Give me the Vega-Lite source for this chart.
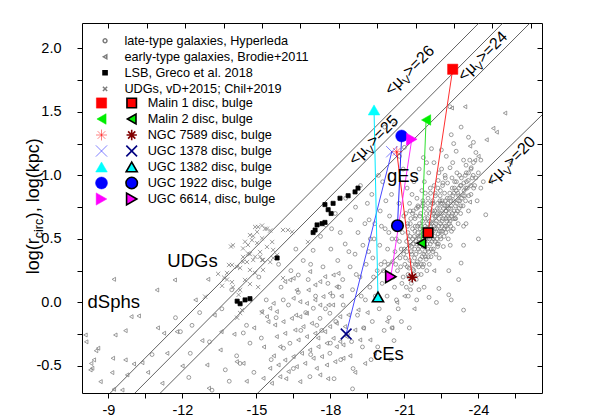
{
"$schema":"https://vega.github.io/schema/vega-lite/v6.json",
"width":460,"height":370,
"autosize":{"type":"none"},
"padding":{"left":82,"top":23,"right":56,"bottom":24},
"background":"white",
"config":{"font":"Liberation Sans","view":{"stroke":"black","strokeWidth":1},
 "axis":{"grid":false,"domain":false,"tickColor":"black","labelColor":"black","labelFont":"Liberation Sans","labelFontSize":14.5,"tickSize":5,"labelFlush":false},
 "legend":{"padding":0,"labelFont":"Liberation Sans","labelFontSize":12.7,"labelColor":"black","title":null,"labelLimit":400}},
"datasets":{
"mu":[{"mu":26,"M":-9.04,"r":-0.72},{"mu":26,"M":-24.03,"r":2.2},{"mu":25,"M":-10.04,"r":-0.72},{"mu":25,"M":-25.0,"r":2.2},{"mu":24,"M":-11.07,"r":-0.72},{"mu":24,"M":-26.1,"r":2.2},{"mu":20,"M":-15.02,"r":-0.72},{"mu":20,"M":-26.58,"r":1.475}],
"bg":[
{"c":"L","M":-13.1,"r":-0.31},{"c":"L","M":-13.6,"r":-0.05},{"c":"L","M":-14.2,"r":-0.42},{"c":"L","M":-14.6,"r":-0.18},{"c":"L","M":-14.9,"r":-0.55},{"c":"L","M":-15.2,"r":-0.28},{"c":"L","M":-15.4,"r":0.02},{"c":"L","M":-15.6,"r":-0.45},{"c":"L","M":-15.8,"r":-0.12},{"c":"L","M":-16.0,"r":0.12},{"c":"L","M":-16.1,"r":-0.36},{"c":"L","M":-16.3,"r":-0.02},{"c":"L","M":-16.4,"r":0.25},{"c":"L","M":-16.5,"r":-0.52},{"c":"L","M":-16.7,"r":0.08},{"c":"L","M":-16.8,"r":-0.22},{"c":"L","M":-16.9,"r":0.33},{"c":"L","M":-17.0,"r":-0.08},{"c":"L","M":-17.1,"r":0.18},{"c":"L","M":-17.2,"r":-0.41},{"c":"L","M":-17.3,"r":0.41},{"c":"L","M":-17.4,"r":0.05},{"c":"L","M":-17.45,"r":-0.18},{"c":"L","M":-15.9,"r":0.3},{"c":"L","M":-16.6,"r":0.42},{"c":"L","M":-17.2,"r":0.3},{"c":"L","M":-14.0,"r":0.1},{"c":"L","M":-12.7,"r":-0.08},{"c":"L","M":-13.9,"r":-0.62},{"c":"L","M":-15.1,"r":0.2},{"c":"L","M":-11.72,"r":-0.12},{"c":"L","M":-12.39,"r":-0.18},{"c":"L","M":-11.92,"r":-0.23},{"c":"L","M":-10.77,"r":-0.41},{"c":"L","M":-12.32,"r":-0.4},{"c":"L","M":-12.26,"r":-0.59},{"c":"L","M":-13.74,"r":-0.53},{"c":"L","M":-13.2,"r":-0.69},{"c":"L","M":-14.74,"r":-0.32},{"c":"L","M":-14.47,"r":-0.24},{"c":"L","M":-14.34,"r":-0.48},
{"c":"L","M":-17.6,"r":0.52},{"c":"L","M":-17.7,"r":0.28},{"c":"L","M":-17.8,"r":-0.05},{"c":"L","M":-17.82,"r":0.61},{"c":"L","M":-17.9,"r":0.15},{"c":"L","M":-18.0,"r":-0.32},{"c":"L","M":-18.02,"r":0.42},{"c":"L","M":-18.1,"r":0.05},{"c":"L","M":-18.2,"r":0.7},{"c":"L","M":-18.22,"r":-0.15},{"c":"L","M":-18.3,"r":0.33},{"c":"L","M":-18.4,"r":0.55},{"c":"L","M":-18.42,"r":-0.45},{"c":"L","M":-18.5,"r":0.18},{"c":"L","M":-18.52,"r":-0.02},{"c":"L","M":-18.6,"r":0.46},{"c":"L","M":-18.62,"r":0.82},{"c":"L","M":-18.7,"r":-0.25},{"c":"L","M":-18.8,"r":0.28},{"c":"L","M":-18.82,"r":0.65},{"c":"L","M":-18.9,"r":0.1},{"c":"L","M":-18.92,"r":-0.52},{"c":"L","M":-19.0,"r":0.38},{"c":"L","M":-19.02,"r":0.75},{"c":"L","M":-19.1,"r":-0.1},{"c":"L","M":-19.12,"r":0.55},{"c":"L","M":-19.2,"r":0.2},{"c":"L","M":-19.22,"r":0.92},{"c":"L","M":-19.3,"r":-0.35},{"c":"L","M":-19.32,"r":0.45},{"c":"L","M":-19.4,"r":0.62},{"c":"L","M":-19.42,"r":0.02},{"c":"L","M":-19.45,"r":0.3},{"c":"L","M":-19.5,"r":0.78},{"c":"L","M":-18.05,"r":0.58},{"c":"L","M":-18.35,"r":0.12},{"c":"L","M":-18.75,"r":0.4},{"c":"L","M":-19.05,"r":0.22},{"c":"L","M":-19.25,"r":0.05},{"c":"L","M":-17.65,"r":-0.22},{"c":"L","M":-18.15,"r":-0.6},{"c":"L","M":-18.9,"r":-0.68},{"c":"L","M":-19.35,"r":-0.2},
{"c":"L","M":-19.6,"r":0.12},{"c":"L","M":-19.62,"r":0.5},{"c":"L","M":-19.7,"r":-0.15},{"c":"L","M":-19.72,"r":0.35},{"c":"L","M":-19.68,"r":0.85},{"c":"L","M":-19.8,"r":0.62},{"c":"L","M":-19.82,"r":0.05},{"c":"L","M":-19.9,"r":0.25},{"c":"L","M":-19.92,"r":-0.35},{"c":"L","M":-20.0,"r":0.45},{"c":"L","M":-20.02,"r":0.72},{"c":"L","M":-19.98,"r":-0.05},{"c":"L","M":-20.1,"r":0.15},{"c":"L","M":-20.12,"r":0.95},{"c":"L","M":-20.2,"r":0.32},{"c":"L","M":-20.22,"r":0.58},{"c":"L","M":-20.18,"r":-0.22},{"c":"L","M":-20.3,"r":0.05},{"c":"L","M":-20.32,"r":0.42},{"c":"L","M":-20.4,"r":0.68},{"c":"L","M":-20.42,"r":0.22},{"c":"L","M":-20.38,"r":-0.12},{"c":"L","M":-20.5,"r":0.5},{"c":"L","M":-20.52,"r":0.32},{"c":"L","M":-20.48,"r":0.85},{"c":"L","M":-20.6,"r":0.12},{"c":"L","M":-20.62,"r":0.4},{"c":"L","M":-20.58,"r":-0.3},{"c":"L","M":-20.7,"r":0.62},{"c":"L","M":-20.72,"r":0.25},{"c":"L","M":-20.68,"r":0.02},{"c":"L","M":-20.8,"r":0.48},{"c":"L","M":-20.82,"r":0.35},{"c":"L","M":-20.78,"r":0.78},{"c":"L","M":-20.9,"r":0.15},{"c":"L","M":-20.92,"r":0.55},{"c":"L","M":-20.88,"r":-0.15},{"c":"L","M":-21.0,"r":0.42},{"c":"L","M":-21.02,"r":0.3},{"c":"L","M":-20.98,"r":0.68},{"c":"L","M":-19.65,"r":-0.45},{"c":"L","M":-19.95,"r":1.0},{"c":"L","M":-20.25,"r":0.8},{"c":"L","M":-20.45,"r":-0.45},{"c":"L","M":-20.75,"r":-0.05},{"c":"L","M":-20.95,"r":1.05},{"c":"L","M":-20.15,"r":0.25},{"c":"L","M":-20.55,"r":0.2},
{"c":"L","M":-21.08,"r":0.12},{"c":"L","M":-21.12,"r":0.28},{"c":"L","M":-21.1,"r":0.4},{"c":"L","M":-21.14,"r":0.55},{"c":"L","M":-21.06,"r":0.7},{"c":"L","M":-21.11,"r":0.9},
{"c":"L","M":-21.18,"r":0.2},{"c":"L","M":-21.22,"r":0.33},{"c":"L","M":-21.2,"r":0.45},{"c":"L","M":-21.24,"r":0.62},{"c":"L","M":-21.16,"r":0.05},{"c":"L","M":-21.21,"r":0.78},
{"c":"L","M":-21.28,"r":0.15},{"c":"L","M":-21.32,"r":0.3},{"c":"L","M":-21.3,"r":0.38},{"c":"L","M":-21.34,"r":0.5},{"c":"L","M":-21.26,"r":0.66},{"c":"L","M":-21.31,"r":0.85},
{"c":"L","M":-21.38,"r":0.25},{"c":"L","M":-21.42,"r":0.42},{"c":"L","M":-21.4,"r":0.52},{"c":"L","M":-21.44,"r":0.6},{"c":"L","M":-21.36,"r":0.72},{"c":"L","M":-21.41,"r":0.35},{"c":"L","M":-21.39,"r":0.95},
{"c":"L","M":-21.48,"r":0.18},{"c":"L","M":-21.52,"r":0.32},{"c":"L","M":-21.5,"r":0.46},{"c":"L","M":-21.54,"r":0.55},{"c":"L","M":-21.46,"r":0.68},{"c":"L","M":-21.51,"r":0.82},
{"c":"L","M":-21.58,"r":0.28},{"c":"L","M":-21.62,"r":0.4},{"c":"L","M":-21.6,"r":0.5},{"c":"L","M":-21.64,"r":0.58},{"c":"L","M":-21.56,"r":0.75},{"c":"L","M":-21.61,"r":0.62},{"c":"L","M":-21.59,"r":0.1},
{"c":"L","M":-21.68,"r":0.22},{"c":"L","M":-21.72,"r":0.36},{"c":"L","M":-21.7,"r":0.48},{"c":"L","M":-21.74,"r":0.64},{"c":"L","M":-21.66,"r":0.7},{"c":"L","M":-21.71,"r":0.88},
{"c":"L","M":-21.78,"r":0.3},{"c":"L","M":-21.82,"r":0.44},{"c":"L","M":-21.8,"r":0.52},{"c":"L","M":-21.84,"r":0.6},{"c":"L","M":-21.76,"r":0.78},{"c":"L","M":-21.81,"r":0.95},{"c":"L","M":-21.79,"r":0.38},
{"c":"L","M":-21.88,"r":0.34},{"c":"L","M":-21.92,"r":0.46},{"c":"L","M":-21.9,"r":0.56},{"c":"L","M":-21.94,"r":0.66},{"c":"L","M":-21.86,"r":0.74},{"c":"L","M":-21.91,"r":0.25},
{"c":"L","M":-21.98,"r":0.4},{"c":"L","M":-22.02,"r":0.5},{"c":"L","M":-22.0,"r":0.58},{"c":"L","M":-22.04,"r":0.7},{"c":"L","M":-21.96,"r":0.82},{"c":"L","M":-22.01,"r":0.3},{"c":"L","M":-21.99,"r":1.02},
{"c":"L","M":-22.08,"r":0.36},{"c":"L","M":-22.12,"r":0.48},{"c":"L","M":-22.1,"r":0.62},{"c":"L","M":-22.14,"r":0.72},{"c":"L","M":-22.06,"r":0.86},{"c":"L","M":-22.11,"r":0.55},
{"c":"L","M":-22.18,"r":0.42},{"c":"L","M":-22.22,"r":0.52},{"c":"L","M":-22.2,"r":0.6},{"c":"L","M":-22.24,"r":0.68},{"c":"L","M":-22.16,"r":0.78},{"c":"L","M":-22.21,"r":0.92},
{"c":"L","M":-22.28,"r":0.38},{"c":"L","M":-22.32,"r":0.5},{"c":"L","M":-22.3,"r":0.64},{"c":"L","M":-22.34,"r":0.74},{"c":"L","M":-22.26,"r":0.84},{"c":"L","M":-22.31,"r":0.58},
{"c":"L","M":-22.38,"r":0.46},{"c":"L","M":-22.42,"r":0.56},{"c":"L","M":-22.4,"r":0.66},{"c":"L","M":-22.44,"r":0.8},{"c":"L","M":-22.36,"r":0.9},{"c":"L","M":-22.41,"r":0.35},
{"c":"L","M":-22.48,"r":0.5},{"c":"L","M":-22.52,"r":0.6},{"c":"L","M":-22.5,"r":0.7},{"c":"L","M":-22.54,"r":0.78},{"c":"L","M":-22.46,"r":0.88},{"c":"L","M":-22.51,"r":1.05},
{"c":"L","M":-22.58,"r":0.44},{"c":"L","M":-22.62,"r":0.58},{"c":"L","M":-22.6,"r":0.68},{"c":"L","M":-22.64,"r":0.76},{"c":"L","M":-22.56,"r":0.94},
{"c":"L","M":-22.68,"r":0.55},{"c":"L","M":-22.72,"r":0.64},{"c":"L","M":-22.7,"r":0.72},{"c":"L","M":-22.74,"r":0.82},{"c":"L","M":-22.66,"r":0.98},
{"c":"L","M":-22.78,"r":0.5},{"c":"L","M":-22.82,"r":0.62},{"c":"L","M":-22.8,"r":0.7},{"c":"L","M":-22.84,"r":0.86},{"c":"L","M":-22.76,"r":0.78},
{"c":"L","M":-22.88,"r":0.6},{"c":"L","M":-22.92,"r":0.68},{"c":"L","M":-22.9,"r":0.76},{"c":"L","M":-22.94,"r":0.9},{"c":"L","M":-22.86,"r":0.45},
{"c":"L","M":-22.98,"r":0.58},{"c":"L","M":-23.02,"r":0.72},{"c":"L","M":-23.0,"r":0.8},{"c":"L","M":-23.04,"r":0.95},{"c":"L","M":-22.96,"r":1.1},
{"c":"L","M":-23.08,"r":0.66},{"c":"L","M":-23.12,"r":0.78},{"c":"L","M":-23.1,"r":0.88},
{"c":"L","M":-23.18,"r":0.62},{"c":"L","M":-23.22,"r":0.74},{"c":"L","M":-23.2,"r":0.84},{"c":"L","M":-23.24,"r":1.0},
{"c":"L","M":-23.28,"r":0.7},{"c":"L","M":-23.32,"r":0.82},{"c":"L","M":-23.3,"r":0.92},
{"c":"L","M":-23.38,"r":0.76},{"c":"L","M":-23.42,"r":0.88},{"c":"L","M":-23.4,"r":0.6},
{"c":"L","M":-23.48,"r":0.8},{"c":"L","M":-23.52,"r":0.95},
{"c":"L","M":-21.15,"r":0.22},{"c":"L","M":-21.17,"r":0.5},{"c":"L","M":-21.13,"r":0.62},{"c":"L","M":-21.25,"r":0.1},{"c":"L","M":-21.27,"r":0.4},{"c":"L","M":-21.23,"r":0.72},{"c":"L","M":-21.35,"r":0.26},{"c":"L","M":-21.37,"r":0.46},{"c":"L","M":-21.33,"r":0.58},{"c":"L","M":-21.45,"r":0.3},{"c":"L","M":-21.47,"r":0.48},{"c":"L","M":-21.43,"r":0.66},{"c":"L","M":-21.55,"r":0.22},{"c":"L","M":-21.57,"r":0.42},{"c":"L","M":-21.53,"r":0.6},{"c":"L","M":-21.55,"r":0.76},{"c":"L","M":-21.65,"r":0.34},{"c":"L","M":-21.67,"r":0.52},{"c":"L","M":-21.63,"r":0.68},{"c":"L","M":-21.75,"r":0.28},{"c":"L","M":-21.77,"r":0.44},{"c":"L","M":-21.73,"r":0.56},{"c":"L","M":-21.75,"r":0.8},{"c":"L","M":-21.85,"r":0.36},{"c":"L","M":-21.87,"r":0.5},{"c":"L","M":-21.83,"r":0.66},{"c":"L","M":-21.85,"r":0.86},{"c":"L","M":-21.95,"r":0.42},{"c":"L","M":-21.97,"r":0.54},{"c":"L","M":-21.93,"r":0.62},{"c":"L","M":-21.95,"r":0.78},{"c":"L","M":-22.05,"r":0.46},{"c":"L","M":-22.07,"r":0.6},{"c":"L","M":-22.03,"r":0.74},{"c":"L","M":-22.05,"r":0.9},{"c":"L","M":-22.15,"r":0.4},{"c":"L","M":-22.17,"r":0.56},{"c":"L","M":-22.13,"r":0.66},{"c":"L","M":-22.15,"r":0.8},{"c":"L","M":-22.25,"r":0.48},{"c":"L","M":-22.27,"r":0.62},{"c":"L","M":-22.23,"r":0.72},{"c":"L","M":-22.25,"r":0.86},{"c":"L","M":-22.35,"r":0.44},{"c":"L","M":-22.37,"r":0.54},{"c":"L","M":-22.33,"r":0.7},{"c":"L","M":-22.35,"r":0.78},{"c":"L","M":-22.37,"r":0.96},{"c":"L","M":-22.45,"r":0.52},{"c":"L","M":-22.47,"r":0.62},{"c":"L","M":-22.43,"r":0.74},{"c":"L","M":-22.45,"r":0.84},{"c":"L","M":-22.55,"r":0.56},{"c":"L","M":-22.57,"r":0.66},{"c":"L","M":-22.53,"r":0.8},{"c":"L","M":-22.55,"r":0.92},{"c":"L","M":-22.65,"r":0.6},{"c":"L","M":-22.67,"r":0.72},{"c":"L","M":-22.63,"r":0.86},{"c":"L","M":-22.65,"r":1.0},{"c":"L","M":-22.75,"r":0.58},{"c":"L","M":-22.77,"r":0.68},{"c":"L","M":-22.73,"r":0.76},{"c":"L","M":-22.75,"r":0.94},{"c":"L","M":-22.85,"r":0.64},{"c":"L","M":-22.87,"r":0.74},{"c":"L","M":-22.83,"r":0.82},{"c":"L","M":-22.85,"r":1.06},{"c":"L","M":-22.95,"r":0.7},{"c":"L","M":-22.97,"r":0.84},{"c":"L","M":-22.93,"r":0.98},{"c":"L","M":-23.05,"r":0.66},{"c":"L","M":-23.07,"r":0.76},{"c":"L","M":-23.03,"r":0.9},{"c":"L","M":-23.15,"r":0.72},{"c":"L","M":-23.17,"r":0.86},{"c":"L","M":-23.13,"r":1.02},{"c":"L","M":-23.25,"r":0.8},{"c":"L","M":-23.27,"r":0.92},{"c":"L","M":-23.45,"r":0.84},{"c":"L","M":-23.47,"r":1.0},
{"c":"L","M":-21.05,"r":0.35},{"c":"L","M":-21.09,"r":0.48},{"c":"L","M":-21.13,"r":0.6},{"c":"L","M":-21.19,"r":0.27},{"c":"L","M":-21.23,"r":0.52},{"c":"L","M":-21.29,"r":0.44},{"c":"L","M":-21.33,"r":0.7},{"c":"L","M":-21.37,"r":0.2},{"c":"L","M":-21.43,"r":0.56},{"c":"L","M":-21.47,"r":0.38},{"c":"L","M":-21.49,"r":0.74},{"c":"L","M":-21.53,"r":0.3},{"c":"L","M":-21.57,"r":0.52},{"c":"L","M":-21.63,"r":0.44},{"c":"L","M":-21.67,"r":0.6},{"c":"L","M":-21.69,"r":0.3},{"c":"L","M":-21.73,"r":0.76},{"c":"L","M":-21.77,"r":0.5},{"c":"L","M":-21.83,"r":0.4},{"c":"L","M":-21.87,"r":0.58},{"c":"L","M":-21.89,"r":0.7},{"c":"L","M":-21.93,"r":0.5},{"c":"L","M":-21.97,"r":0.36},{"c":"L","M":-22.01,"r":0.64},{"c":"L","M":-22.03,"r":0.54},{"c":"L","M":-22.09,"r":0.42},{"c":"L","M":-22.13,"r":0.78},{"c":"L","M":-22.17,"r":0.5},{"c":"L","M":-22.19,"r":0.7},{"c":"L","M":-22.23,"r":0.58},{"c":"L","M":-22.29,"r":0.68},{"c":"L","M":-22.33,"r":0.46},{"c":"L","M":-22.39,"r":0.6},{"c":"L","M":-22.43,"r":0.7},{"c":"L","M":-22.47,"r":0.78},{"c":"L","M":-22.49,"r":0.56},{"c":"L","M":-22.53,"r":0.64},{"c":"L","M":-22.59,"r":0.74},{"c":"L","M":-22.61,"r":0.52},{"c":"L","M":-22.67,"r":0.8},{"c":"L","M":-22.69,"r":0.66},{"c":"L","M":-22.71,"r":0.6},{"c":"L","M":-22.79,"r":0.74},{"c":"L","M":-22.81,"r":0.66},{"c":"L","M":-22.89,"r":0.8},{"c":"L","M":-22.91,"r":0.56},{"c":"L","M":-22.99,"r":0.66},{"c":"L","M":-23.01,"r":0.86},{"c":"L","M":-23.09,"r":0.7},{"c":"L","M":-23.11,"r":0.95},{"c":"L","M":-23.19,"r":0.8},{"c":"L","M":-23.21,"r":0.9},{"c":"L","M":-23.29,"r":0.76},{"c":"L","M":-23.31,"r":0.98},{"c":"L","M":-23.39,"r":0.84},{"c":"L","M":-23.41,"r":0.94},{"c":"L","M":-23.49,"r":0.9},{"c":"L","M":-23.51,"r":1.02},{"c":"L","M":-23.59,"r":0.96},{"c":"L","M":-23.61,"r":0.84},{"c":"L","M":-23.69,"r":0.92},{"c":"L","M":-23.71,"r":1.06},{"c":"L","M":-23.79,"r":1.0},{"c":"L","M":-23.81,"r":0.9},{"c":"L","M":-20.95,"r":0.2},{"c":"L","M":-20.97,"r":0.38},{"c":"L","M":-20.85,"r":0.28},{"c":"L","M":-20.87,"r":0.42},{"c":"L","M":-20.65,"r":0.3},{"c":"L","M":-20.67,"r":0.5},{"c":"L","M":-20.35,"r":0.3},{"c":"L","M":-20.37,"r":0.55},{"c":"L","M":-20.05,"r":0.3},{"c":"L","M":-20.07,"r":0.6},{"c":"L","M":-19.75,"r":0.2},{"c":"L","M":-19.77,"r":0.5},{"c":"L","M":-19.55,"r":0.4},{"c":"L","M":-19.57,"r":0.65},
{"c":"L","M":-23.55,"r":0.9},{"c":"L","M":-23.6,"r":1.02},{"c":"L","M":-23.65,"r":1.12},{"c":"L","M":-23.7,"r":0.85},{"c":"L","M":-23.75,"r":0.98},{"c":"L","M":-23.8,"r":1.1},{"c":"L","M":-23.85,"r":0.92},{"c":"L","M":-23.9,"r":1.18},{"c":"L","M":-24.0,"r":1.02},{"c":"L","M":-24.1,"r":1.12},{"c":"L","M":-23.5,"r":1.08},{"c":"L","M":-23.6,"r":0.72},{"c":"L","M":-23.95,"r":0.8},{"c":"L","M":-24.2,"r":0.95},
{"c":"L","M":-22.2,"r":1.1},{"c":"L","M":-22.5,"r":1.2},{"c":"L","M":-22.9,"r":1.32},{"c":"L","M":-23.3,"r":1.38},{"c":"L","M":-22.85,"r":1.54},{"c":"L","M":-22.1,"r":1.21},{"c":"L","M":-23.6,"r":1.3},{"c":"L","M":-23.8,"r":1.26},{"c":"L","M":-23.1,"r":1.19},{"c":"L","M":-23.4,"r":1.12},{"c":"L","M":-23.0,"r":1.25},{"c":"L","M":-22.7,"r":1.15},{"c":"L","M":-22.4,"r":1.02},{"c":"L","M":-23.7,"r":1.05},{"c":"L","M":-23.9,"r":0.98},{"c":"L","M":-24.1,"r":0.9},{"c":"L","M":-24.3,"r":0.69},{"c":"L","M":-23.5,"r":0.62},{"c":"L","M":-23.4,"r":0.45},{"c":"L","M":-23.4,"r":-0.06},{"c":"L","M":-22.9,"r":0.02},{"c":"L","M":-22.8,"r":0.06},{"c":"L","M":-23.2,"r":0.18},{"c":"L","M":-23.3,"r":0.31},{"c":"L","M":-21.2,"r":-0.2},{"c":"L","M":-20.5,"r":-0.2},{"c":"L","M":-22.3,"r":0.0},{"c":"L","M":-22.0,"r":0.04},{"c":"L","M":-22.4,"r":0.11},{"c":"L","M":-22.8,"r":0.25},{"c":"L","M":-24.0,"r":0.5},{"c":"L","M":-21.8,"r":0.12},{"c":"L","M":-21.5,"r":0.02},{"c":"L","M":-21.9,"r":1.1},{"c":"L","M":-21.6,"r":1.05},{"c":"L","M":-20.6,"r":1.4},{"c":"L","M":-20.2,"r":1.38},{"c":"L","M":-21.0,"r":1.22},{"c":"L","M":-20.8,"r":1.15},{"c":"L","M":-21.77,"r":1.14},
{"c":"L","M":-16.7,"r":0.216},{"c":"L","M":-16.09,"r":0.02},{"c":"L","M":-17.31,"r":-0.046},{"c":"L","M":-17.98,"r":-0.085},{"c":"L","M":-16.36,"r":-0.321},{"c":"L","M":-17.98,"r":-0.4},{"c":"L","M":-17.17,"r":-0.584},{"c":"L","M":-18.86,"r":-0.308},{"c":"L","M":-17.58,"r":-0.125},
{"c":"E","M":-9.22,"r":0.182},{"c":"E","M":-10.97,"r":0.098},{"c":"E","M":-11.69,"r":0.177},{"c":"E","M":-13.04,"r":0.182},{"c":"E","M":-12.53,"r":0.02},{"c":"E","M":-9.93,"r":-0.112},{"c":"E","M":-10.23,"r":-0.106},{"c":"E","M":-8.07,"r":-0.256},{"c":"E","M":-9.28,"r":-0.256},{"c":"E","M":-9.69,"r":-0.222},{"c":"E","M":-11.25,"r":-0.242},{"c":"E","M":-11.78,"r":-0.23},{"c":"E","M":-8.58,"r":-0.36},{"c":"E","M":-8.41,"r":-0.452},{"c":"E","M":-9.18,"r":-0.439},{"c":"E","M":-9.69,"r":-0.452},{"c":"E","M":-10.03,"r":-0.484},{"c":"E","M":-10.37,"r":-0.474},{"c":"E","M":-8.27,"r":-0.531},{"c":"E","M":-8.34,"r":-0.518},{"c":"E","M":-9.15,"r":-0.552},{"c":"E","M":-9.76,"r":-0.57},{"c":"E","M":-8.68,"r":-0.623},{"c":"E","M":-11.38,"r":-0.4},{"c":"E","M":-13.58,"r":-0.23},{"c":"E","M":-13.54,"r":-0.374},{"c":"E","M":-13.0,"r":-0.492},{"c":"E","M":-11.18,"r":-0.636},{"c":"E","M":-9.22,"r":-0.683},{"c":"E","M":-9.56,"r":-0.689},{"c":"E","M":-13.07,"r":-0.675},{"c":"E","M":-8.1,"r":-0.31},{"c":"E","M":-8.5,"r":-0.38},{"c":"E","M":-8.3,"r":-0.48},
{"c":"E","M":-17.17,"r":0.243},{"c":"E","M":-16.5,"r":0.19},{"c":"E","M":-16.36,"r":0.177},{"c":"E","M":-16.16,"r":0.164},{"c":"E","M":-16.63,"r":0.098},{"c":"E","M":-17.11,"r":0.098},{"c":"E","M":-17.38,"r":0.138},{"c":"E","M":-17.58,"r":0.164},{"c":"E","M":-17.78,"r":0.203},{"c":"E","M":-18.12,"r":0.216},{"c":"E","M":-18.32,"r":0.229},{"c":"E","M":-18.25,"r":0.124},{"c":"E","M":-17.98,"r":0.072},{"c":"E","M":-17.71,"r":0.046},{"c":"E","M":-17.38,"r":0.02},{"c":"E","M":-17.04,"r":-0.007},{"c":"E","M":-16.77,"r":0.006},{"c":"E","M":-16.5,"r":0.033},{"c":"E","M":-15.69,"r":-0.007},{"c":"E","M":-15.55,"r":-0.046},{"c":"E","M":-15.82,"r":-0.072},{"c":"E","M":-15.42,"r":-0.112},{"c":"E","M":-15.48,"r":-0.151},{"c":"E","M":-15.75,"r":-0.177},{"c":"E","M":-16.09,"r":-0.151},{"c":"E","M":-16.43,"r":-0.125},{"c":"E","M":-16.77,"r":-0.112},{"c":"E","M":-17.04,"r":-0.085},{"c":"E","M":-17.58,"r":-0.02},{"c":"E","M":-17.92,"r":-0.02},{"c":"E","M":-18.39,"r":-0.112},{"c":"E","M":-18.73,"r":-0.098},{"c":"E","M":-19.13,"r":-0.059},{"c":"E","M":-17.24,"r":-0.164},{"c":"E","M":-16.9,"r":-0.19},{"c":"E","M":-16.57,"r":-0.217},{"c":"E","M":-16.16,"r":-0.243},{"c":"E","M":-15.82,"r":-0.269},{"c":"E","M":-15.96,"r":-0.348},{"c":"E","M":-16.7,"r":-0.295},{"c":"E","M":-17.04,"r":-0.269},{"c":"E","M":-17.38,"r":-0.243},{"c":"E","M":-17.78,"r":-0.23},{"c":"E","M":-17.98,"r":-0.19},{"c":"E","M":-18.25,"r":-0.164},{"c":"E","M":-18.59,"r":-0.19},{"c":"E","M":-19.0,"r":-0.217},{"c":"E","M":-19.34,"r":-0.203},{"c":"E","M":-18.12,"r":-0.282},{"c":"E","M":-17.85,"r":-0.321},{"c":"E","M":-17.51,"r":-0.348},{"c":"E","M":-17.17,"r":-0.374},{"c":"E","M":-16.84,"r":-0.4},{"c":"E","M":-16.5,"r":-0.426},{"c":"E","M":-16.16,"r":-0.453},{"c":"E","M":-15.89,"r":-0.492},{"c":"E","M":-15.55,"r":-0.518},{"c":"E","M":-15.28,"r":-0.597},{"c":"E","M":-15.62,"r":-0.636},{"c":"E","M":-15.96,"r":-0.584},{"c":"E","M":-16.3,"r":-0.544},{"c":"E","M":-16.63,"r":-0.505},{"c":"E","M":-16.97,"r":-0.479},{"c":"E","M":-17.31,"r":-0.439},{"c":"E","M":-17.65,"r":-0.426},{"c":"E","M":-18.25,"r":-0.348},{"c":"E","M":-18.52,"r":-0.334},{"c":"E","M":-19.2,"r":-0.295},{"c":"E","M":-19.61,"r":-0.295},{"c":"E","M":-17.44,"r":-0.518},{"c":"E","M":-17.85,"r":-0.492},{"c":"E","M":-18.19,"r":-0.466},{"c":"E","M":-18.52,"r":-0.439},{"c":"E","M":-16.77,"r":-0.623},{"c":"E","M":-17.58,"r":-0.57},{"c":"E","M":-14.74,"r":0.02},{"c":"E","M":-15.21,"r":-0.072},{"c":"E","M":-14.2,"r":-0.466},{"c":"E","M":-14.47,"r":-0.479},{"c":"E","M":-18.66,"r":-0.269},{"c":"E","M":-18.39,"r":-0.308},
{"c":"E","M":-15.3,"r":-0.35},{"c":"E","M":-15.7,"r":-0.42},{"c":"E","M":-16.2,"r":-0.6},{"c":"E","M":-16.6,"r":-0.1},{"c":"E","M":-17.5,"r":-0.28},{"c":"E","M":-17.9,"r":-0.6},{"c":"E","M":-18.1,"r":-0.02},{"c":"E","M":-18.45,"r":0.05},{"c":"E","M":-18.8,"r":-0.42},{"c":"E","M":-19.0,"r":-0.55},{"c":"E","M":-19.4,"r":-0.48},{"c":"E","M":-19.5,"r":-0.08},{"c":"E","M":-14.9,"r":-0.2},{"c":"E","M":-14.6,"r":-0.62},{"c":"E","M":-12.0,"r":-0.5},{"c":"E","M":-12.8,"r":-0.3},{"c":"E","M":-11.0,"r":-0.2},{"c":"E","M":-10.6,"r":-0.55},{"c":"E","M":-13.3,"r":-0.1},{"c":"E","M":-14.1,"r":-0.25},
{"c":"E","M":-23.46,"r":1.54},{"c":"E","M":-25.08,"r":1.49},{"c":"E","M":-24.6,"r":1.37},{"c":"E","M":-24.74,"r":1.34},{"c":"E","M":-24.33,"r":1.28},{"c":"E","M":-24.0,"r":1.15},{"c":"E","M":-23.86,"r":1.12},{"c":"E","M":-22.92,"r":1.53},{"c":"E","M":-23.66,"r":1.23},{"c":"E","M":-23.65,"r":0.79},{"c":"E","M":-24.5,"r":0.95},{"c":"E","M":-25.3,"r":1.1},{"c":"E","M":-20.7,"r":0.0},{"c":"E","M":-20.3,"r":-0.15},{"c":"E","M":-20.5,"r":-0.2},{"c":"E","M":-21.0,"r":0.05},{"c":"E","M":-19.8,"r":-0.4},{"c":"E","M":-21.4,"r":-0.05},{"c":"E","M":-22.2,"r":0.25},
{"c":"U","M":-13.89,"r":0.295},{"c":"U","M":-13.45,"r":0.225},{"c":"U","M":-13.69,"r":0.196},{"c":"U","M":-13.81,"r":0.18},{"c":"U","M":-13.61,"r":0.131},{"c":"U","M":-12.92,"r":0.046},{"c":"U","M":-13.97,"r":0.44},{"c":"U","M":-14.05,"r":0.45},{"c":"U","M":-14.46,"r":0.425},{"c":"U","M":-14.54,"r":0.478},{"c":"U","M":-14.74,"r":0.53},{"c":"U","M":-14.95,"r":0.594},{"c":"U","M":-15.03,"r":0.555},{"c":"U","M":-15.23,"r":0.605},{"c":"U","M":-15.35,"r":0.58},{"c":"U","M":-15.56,"r":0.566},{"c":"U","M":-14.82,"r":0.49},{"c":"U","M":-14.66,"r":0.386},{"c":"U","M":-14.95,"r":0.36},{"c":"U","M":-15.15,"r":0.36},{"c":"U","M":-15.27,"r":0.334},{"c":"U","M":-14.46,"r":0.32},{"c":"U","M":-14.22,"r":0.28},{"c":"U","M":-14.74,"r":0.256},{"c":"U","M":-14.95,"r":0.232},{"c":"U","M":-15.27,"r":0.256},{"c":"U","M":-15.68,"r":0.413},{"c":"U","M":-16.08,"r":0.192},{"c":"U","M":-16.28,"r":0.57},{"c":"U","M":-16.45,"r":0.555},{"c":"U","M":-14.42,"r":-0.06},{"c":"U","M":-14.22,"r":-0.12},{"c":"U","M":-15.23,"r":-0.08},{"c":"U","M":-14.01,"r":0.16},{"c":"U","M":-14.05,"r":0.12},{"c":"U","M":-14.34,"r":0.098},{"c":"U","M":-14.74,"r":0.145},{"c":"U","M":-15.07,"r":0.121},{"c":"U","M":-17.09,"r":0.476},{"c":"U","M":-15.68,"r":0.35},{"c":"U","M":-15.56,"r":0.318},{"c":"U","M":-14.54,"r":0.177},{"c":"U","M":-14.34,"r":-0.083},{"c":"U","M":-14.28,"r":0.06},{"c":"U","M":-15.07,"r":0.594},{"c":"U","M":-15.43,"r":0.58},{"c":"U","M":-14.87,"r":0.523},{"c":"U","M":-15.23,"r":0.505},{"c":"U","M":-15.03,"r":0.468},{"c":"U","M":-14.66,"r":0.452},{"c":"U","M":-15.43,"r":0.437},{"c":"U","M":-15.64,"r":0.476},{"c":"U","M":-15.15,"r":0.397},{"c":"U","M":-14.74,"r":0.38},{"c":"U","M":-14.46,"r":0.358},{"c":"U","M":-14.87,"r":0.334},{"c":"U","M":-14.62,"r":0.318},{"c":"U","M":-15.23,"r":0.334},{"c":"U","M":-14.01,"r":0.295},{"c":"U","M":-14.34,"r":0.271},{"c":"U","M":-13.81,"r":0.232},{"c":"U","M":-16.08,"r":0.57},{"c":"U","M":-15.84,"r":0.374},
{"c":"S","M":-19.0,"r":0.87},{"c":"S","M":-18.72,"r":0.84},{"c":"S","M":-18.39,"r":0.82},{"c":"S","M":-18.11,"r":0.78},{"c":"S","M":-17.78,"r":0.77},{"c":"S","M":-17.91,"r":0.73},{"c":"S","M":-18.03,"r":0.7},{"c":"S","M":-17.46,"r":0.61},{"c":"S","M":-17.38,"r":0.57},{"c":"S","M":-17.3,"r":0.55},{"c":"S","M":-17.66,"r":0.62},{"c":"S","M":-17.78,"r":0.63},{"c":"S","M":-15.84,"r":0.35},{"c":"S","M":-14.22,"r":0.01},{"c":"S","M":-14.54,"r":0.02},{"c":"S","M":-14.34,"r":-0.01},{"c":"S","M":-14.74,"r":0.03},{"c":"S","M":-19.12,"r":0.9}
],
"gal":[
{"g":"Malin 1","p":"d","M":-22.96,"r":1.835},{"g":"Malin 1","p":"b","M":-21.96,"r":0.549},
{"g":"Malin 2","p":"d","M":-21.88,"r":1.436},{"g":"Malin 2","p":"b","M":-21.69,"r":0.466},
{"g":"NGC 7589","p":"d","M":-20.69,"r":1.186},{"g":"NGC 7589","p":"b","M":-21.32,"r":0.198},
{"g":"UGC 1378","p":"d","M":-20.49,"r":1.186},{"g":"UGC 1378","p":"b","M":-18.64,"r":-0.248},
{"g":"UGC 1382","p":"d","M":-19.77,"r":1.515},{"g":"UGC 1382","p":"b","M":-19.93,"r":0.043},
{"g":"UGC 1922","p":"d","M":-20.89,"r":1.31},{"g":"UGC 1922","p":"b","M":-20.72,"r":0.604},
{"g":"UGC 6614","p":"d","M":-21.3,"r":1.284},{"g":"UGC 6614","p":"b","M":-20.45,"r":0.203}
],
"lab":[{"t":"UDGs","M":-12.41,"r":0.328},{"t":"dSphs","M":-9.22,"r":0.004},{"t":"gEs","M":-20.94,"r":0.997},{"t":"cEs","M":-20.35,"r":-0.407}],
"mulab":[{"t":">=26","M":-20.46,"r":1.625},{"t":">=25","M":-19.0,"r":1.074},{"t":">=24","M":-23.42,"r":1.735},{"t":">=20","M":-24.56,"r":0.909}],
"yt":[{"M":-6.19,"r":0.505}]
},
"layer":[
{"data":{"name":"mu"},"mark":{"type":"line","clip":true,"color":"#3a3a3a","strokeWidth":0.8},
 "encoding":{
  "x":{"field":"M","type":"quantitative","scale":{"domain":[-26.58,-7.93],"reverse":true,"nice":false,"zero":false},
   "axis":{"orient":"bottom","title":null,"values":[-9,-10.5,-12,-13.5,-15,-16.5,-18,-19.5,-21,-22.5,-24,-25.5],"labelExpr":"datum.value % 3 == 0 ? '' + datum.value : ''","labelPadding":5}},
  "y":{"field":"r","type":"quantitative","scale":{"domain":[-0.7125,2.199],"nice":false,"zero":false},
   "axis":{"orient":"left","title":null,"values":[-0.5,-0.25,0,0.25,0.5,0.75,1,1.25,1.5,1.75,2],"labelExpr":"datum.value % 0.5 == 0 ? replace(format(datum.value, '.1f'), '\u2212', '-') : ''","labelPadding":16}},
  "detail":{"field":"mu","type":"nominal"}}},
{"data":{"name":"bg"},"mark":{"type":"point","strokeWidth":0.75,"opacity":1},
 "encoding":{
  "x":{"field":"M","type":"quantitative","scale":{"domain":[-26.58,-7.93],"reverse":true,"nice":false,"zero":false},
   "axis":{"orient":"top","title":null,"values":[-9,-10.557,-12.113,-13.67,-15.227,-16.784,-18.34,-19.897,-21.454,-23.01,-24.567,-26.124],"labels":false,"tickSize":-5}},
  "y":{"field":"r","type":"quantitative","scale":{"domain":[-0.7125,2.199],"nice":false,"zero":false},
   "axis":{"orient":"right","title":null,"values":[-0.5,-0.25,0,0.25,0.5,0.75,1,1.25,1.5,1.75,2],"labels":false,"tickSize":-5}},
  "shape":{"field":"c","type":"nominal","scale":{"domain":["L","E","S","U"],"range":["circle","triangle-left","square","M-1,-1L1,1M1,-1L-1,1"]},
   "legend":{"orient":"none","legendX":16.7,"legendY":10,"labelOffset":13,"rowPadding":0,"clipHeight":15.6,
    "labelExpr":"datum.label == 'L' ? 'late-type galaxies, Hyperleda' : datum.label == 'E' ? 'early-type galaxies, Brodie+2011' : datum.label == 'S' ? 'LSB, Greco et al. 2018' : 'UDGs, vD+2015; Chil+2019'"}},
  "fill":{"field":"c","type":"nominal","scale":{"domain":["L","E","S","U"],"range":["transparent","transparent","black","transparent"]}},
  "stroke":{"field":"c","type":"nominal","scale":{"domain":["L","E","S","U"],"range":["#7c7c7c","#7c7c7c","black","#7c7c7c"]}},
  "size":{"field":"c","type":"nominal","scale":{"domain":["L","E","S","U"],"range":[15,18,52,42]}}}},
{"data":{"name":"gal"},"mark":{"type":"line","strokeWidth":1},
 "encoding":{
  "x":{"field":"M","type":"quantitative","scale":{"domain":[-26.58,-7.93],"reverse":true,"nice":false,"zero":false},"axis":null},
  "y":{"field":"r","type":"quantitative","scale":{"domain":[-0.7125,2.199],"nice":false,"zero":false},"axis":null},
  "stroke":{"field":"g","type":"nominal","scale":{"domain":["Malin 1","Malin 2","NGC 7589","UGC 1378","UGC 1382","UGC 1922","UGC 6614"],"range":["#ff3030","#30e030","#ff2020","#4848ff","#00e8ff","#2828ff","#ff30ff"]},"legend":null}}},
{"data":{"name":"gal"},"transform":[{"filter":"datum.p == 'd'"}],"mark":{"type":"point","opacity":1},
 "encoding":{
  "x":{"field":"M","type":"quantitative","scale":{"domain":[-26.58,-7.93],"reverse":true,"nice":false,"zero":false},"axis":null},
  "y":{"field":"r","type":"quantitative","scale":{"domain":[-0.7125,2.199],"nice":false,"zero":false},"axis":null},
  "shape":{"field":"g","type":"nominal","scale":{"domain":["Malin 1","Malin 2","NGC 7589","UGC 1378","UGC 1382","UGC 1922","UGC 6614"],"range":["square","triangle-left","M-1,0L1,0M0,-1L0,1M-0.7,-0.7L0.7,0.7M-0.7,0.7L0.7,-0.7","M-1,-1L1,1M1,-1L-1,1","triangle-up","circle","triangle-right"]},
   "legend":{"orient":"none","legendX":13,"legendY":72,"rowPadding":0,"clipHeight":16,"labelExpr":"''","labelOffset":0}},
  "fill":{"field":"g","type":"nominal","scale":{"domain":["Malin 1","Malin 2","NGC 7589","UGC 1378","UGC 1382","UGC 1922","UGC 6614"],"range":["#ff0000","#00ee00","transparent","transparent","#00ffff","#0000ff","#ff00ff"]}},
  "stroke":{"field":"g","type":"nominal","scale":{"domain":["Malin 1","Malin 2","NGC 7589","UGC 1378","UGC 1382","UGC 1922","UGC 6614"],"range":["#ff0000","#00ee00","#ff0000","#0000ff","#00ffff","#0000ff","#ff00ff"]}},
  "strokeWidth":{"field":"g","type":"nominal","scale":{"domain":["Malin 1","Malin 2","NGC 7589","UGC 1378","UGC 1382","UGC 1922","UGC 6614"],"range":[0.5,0.5,1.4,1.4,0.5,0.5,0.5]}},
  "size":{"field":"g","type":"nominal","scale":{"domain":["Malin 1","Malin 2","NGC 7589","UGC 1378","UGC 1382","UGC 1922","UGC 6614"],"range":[105,150,150,150,150,120,150]}}}},
{"data":{"name":"gal"},"transform":[{"filter":"datum.p == 'b'"}],"mark":{"type":"point","opacity":1},
 "encoding":{
  "x":{"field":"M","type":"quantitative","scale":{"domain":[-26.58,-7.93],"reverse":true,"nice":false,"zero":false},"axis":null},
  "y":{"field":"r","type":"quantitative","scale":{"domain":[-0.7125,2.199],"nice":false,"zero":false},"axis":null},
  "shape":{"field":"g","type":"nominal","scale":{"domain":["Malin 1","Malin 2","NGC 7589","UGC 1378","UGC 1382","UGC 1922","UGC 6614"],"range":["square","triangle-left","M-1,0L1,0M0,-1L0,1M-0.7,-0.7L0.7,0.7M-0.7,0.7L0.7,-0.7","M-1,-1L1,1M1,-1L-1,1","triangle-up","circle","triangle-right"]},
   "legend":{"orient":"none","legendX":42.7,"legendY":72,"rowPadding":0,"clipHeight":16,"labelOffset":9,
    "labelExpr":"datum.label == 'UGC 6614' ? 'UGC 6614, disc, bulge' : datum.label + ' disc, bulge'"}},
  "fill":{"field":"g","type":"nominal","scale":{"domain":["Malin 1","Malin 2","NGC 7589","UGC 1378","UGC 1382","UGC 1922","UGC 6614"],"range":["#ff0000","#00ee00","transparent","transparent","#00ffff","#0000ff","#ff00ff"]}},
  "stroke":{"field":"g","type":"nominal","scale":{"domain":["Malin 1","Malin 2","NGC 7589","UGC 1378","UGC 1382","UGC 1922","UGC 6614"],"range":["black","black","#800000","#000080","black","black","black"]}},
  "strokeWidth":{"field":"g","type":"nominal","scale":{"domain":["Malin 1","Malin 2","NGC 7589","UGC 1378","UGC 1382","UGC 1922","UGC 6614"],"range":[1.6,1.6,2,2.8,1.6,1.6,1.6]}},
  "size":{"field":"g","type":"nominal","scale":{"domain":["Malin 1","Malin 2","NGC 7589","UGC 1378","UGC 1382","UGC 1922","UGC 6614"],"range":[90,140,170,170,140,110,140]}}}},
{"data":{"name":"lab"},"mark":{"type":"text","fontSize":18.5,"align":"center","baseline":"middle","color":"black"},
 "encoding":{
  "x":{"field":"M","type":"quantitative","scale":{"domain":[-26.58,-7.93],"reverse":true,"nice":false,"zero":false},"axis":null},
  "y":{"field":"r","type":"quantitative","scale":{"domain":[-0.7125,2.199],"nice":false,"zero":false},"axis":null},
  "text":{"field":"t"}}},
{"data":{"name":"mulab"},"mark":{"type":"text","fontSize":16,"align":"left","baseline":"alphabetic","angle":315,"color":"black"},
 "encoding":{
  "x":{"field":"M","type":"quantitative","scale":{"domain":[-26.58,-7.93],"reverse":true,"nice":false,"zero":false},"axis":null},
  "y":{"field":"r","type":"quantitative","scale":{"domain":[-0.7125,2.199],"nice":false,"zero":false},"axis":null},
  "text":{"value":"<μ"}}},
{"data":{"name":"mulab"},"mark":{"type":"text","fontSize":11,"align":"left","baseline":"alphabetic","angle":315,"dx":18.6,"dy":4,"color":"black"},
 "encoding":{
  "x":{"field":"M","type":"quantitative","scale":{"domain":[-26.58,-7.93],"reverse":true,"nice":false,"zero":false},"axis":null},
  "y":{"field":"r","type":"quantitative","scale":{"domain":[-0.7125,2.199],"nice":false,"zero":false},"axis":null},
  "text":{"value":"V"}}},
{"data":{"name":"mulab"},"mark":{"type":"text","fontSize":16,"align":"left","baseline":"alphabetic","angle":315,"dx":26,"color":"black"},
 "encoding":{
  "x":{"field":"M","type":"quantitative","scale":{"domain":[-26.58,-7.93],"reverse":true,"nice":false,"zero":false},"axis":null},
  "y":{"field":"r","type":"quantitative","scale":{"domain":[-0.7125,2.199],"nice":false,"zero":false},"axis":null},
  "text":{"field":"t"}}},
{"data":{"name":"yt"},"mark":{"type":"text","fontSize":18,"align":"right","baseline":"alphabetic","angle":270,"color":"black"},
 "encoding":{
  "x":{"field":"M","type":"quantitative","scale":{"domain":[-26.58,-7.93],"reverse":true,"nice":false,"zero":false},"axis":null},
  "y":{"field":"r","type":"quantitative","scale":{"domain":[-0.7125,2.199],"nice":false,"zero":false},"axis":null},
  "text":{"value":"log(r"}}},
{"data":{"name":"yt"},"mark":{"type":"text","fontSize":12.5,"align":"left","baseline":"alphabetic","angle":270,"dy":4,"color":"black"},
 "encoding":{
  "x":{"field":"M","type":"quantitative","scale":{"domain":[-26.58,-7.93],"reverse":true,"nice":false,"zero":false},"axis":null},
  "y":{"field":"r","type":"quantitative","scale":{"domain":[-0.7125,2.199],"nice":false,"zero":false},"axis":null},
  "text":{"value":"circ"}}},
{"data":{"name":"yt"},"mark":{"type":"text","fontSize":18,"align":"left","baseline":"alphabetic","angle":270,"dx":20,"color":"black"},
 "encoding":{
  "x":{"field":"M","type":"quantitative","scale":{"domain":[-26.58,-7.93],"reverse":true,"nice":false,"zero":false},"axis":null},
  "y":{"field":"r","type":"quantitative","scale":{"domain":[-0.7125,2.199],"nice":false,"zero":false},"axis":null},
  "text":{"value":"), log(kpc)"}}}
],
"resolve":{"scale":{"shape":"independent","fill":"independent","stroke":"independent","size":"independent","strokeWidth":"independent"},
 "axis":{"x":"independent","y":"independent"},
 "legend":{"shape":"independent","fill":"independent","stroke":"independent","size":"independent","strokeWidth":"independent"}}
}
